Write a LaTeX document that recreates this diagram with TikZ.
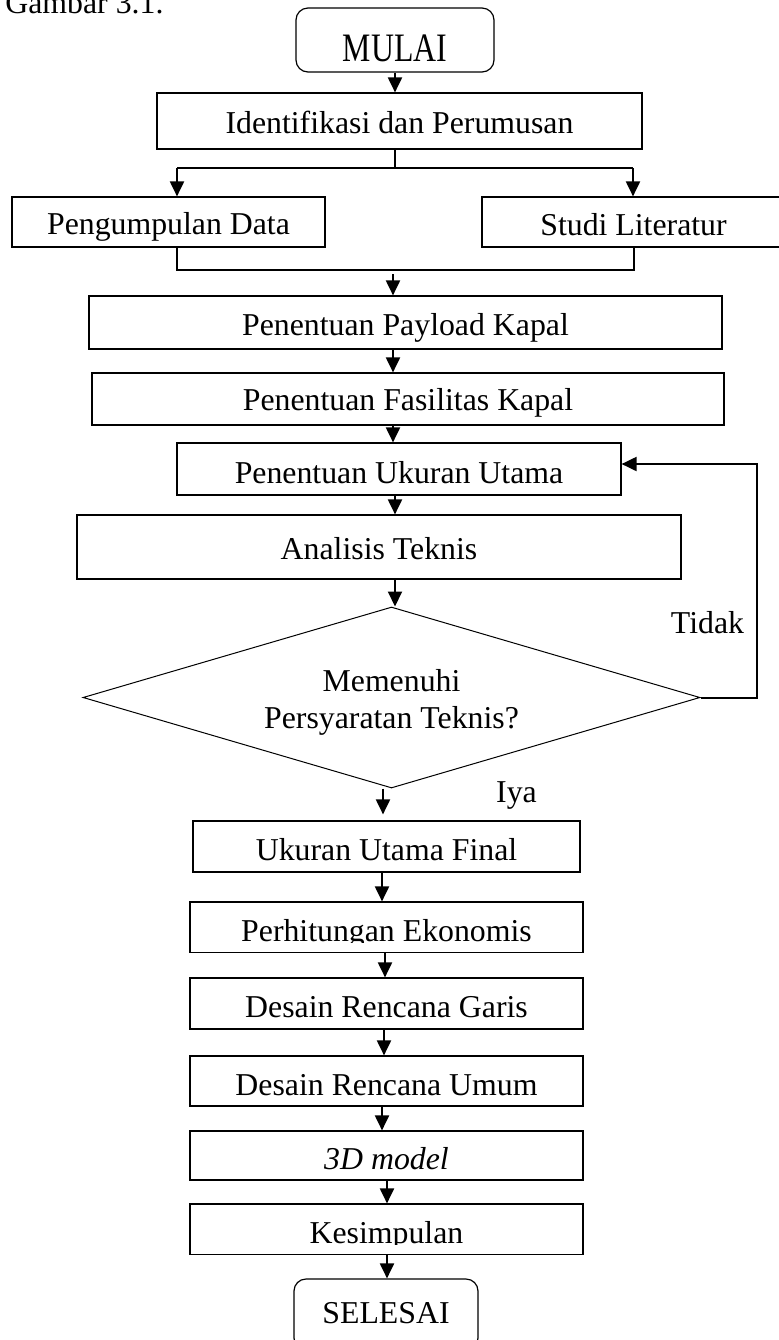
\documentclass[tikz,border=0pt]{standalone}
\usepackage{fontspec}
\usepackage{graphicx}
\setmainfont{Liberation Serif}
\usetikzlibrary{arrows.meta,shapes.geometric}
\begin{document}
\begin{tikzpicture}[x=0.5pt,y=-0.5pt,
  every node/.style={font=\fontsize{15.9pt}{18.5pt}\selectfont},
  box/.style={draw, line width=0.6pt, rectangle, inner sep=0pt, text depth=0pt},
  term/.style={box, rounded corners=6pt},
  arr/.style={line width=1pt, -{Triangle[length=7.5pt,width=7pt]}},
  ln/.style={line width=1pt},
  lbl/.style={anchor=base, inner sep=0pt},
]
\useasboundingbox (0,0) rectangle (779,1340);

\node[anchor=base west, inner sep=0pt] (cap) at (5,13) {Gambar 3.1.};

\node[term, minimum width=99pt, minimum height=32pt, text height=21pt] (mulai) at (395,40) {\scalebox{1}[1.27]{MULAI}};
\node[box, minimum width=242.5pt, minimum height=28pt, text height=12pt] (ident) at (399.5,121) {Identifikasi dan Perumusan};
\node[box, minimum width=156.5pt, minimum height=25pt, text height=12pt] (peng) at (168.5,222) {Pengumpulan Data};
\node[box, minimum width=151.5pt, minimum height=25pt, text height=13pt] (studi) at (633.5,222) {Studi Literatur};
\node[box, minimum width=316.5pt, minimum height=26.5pt, text height=12.5pt] (payload) at (405.5,322.5) {Penentuan Payload Kapal};
\node[box, minimum width=316pt, minimum height=26pt, text height=11pt] (fasil) at (408,399) {Penentuan Fasilitas Kapal};
\node[box, minimum width=222pt, minimum height=26pt, text height=14pt] (ukuran) at (399,469) {Penentuan Ukuran Utama};
\node[box, minimum width=302pt, minimum height=32pt, text height=12pt] (analisis) at (379,547) {Analisis Teknis};
\node[draw, diamond, line width=0.5pt, minimum width=308.5pt, minimum height=90.5pt, inner sep=0pt] (dec) at (391.5,697.5) {};
\node[align=center, inner sep=0pt] (dectext) at (391.5,702) {Memenuhi\\Persyaratan Teknis?};
\node[lbl] (tidak) at (707.5,633) {Tidak};
\node[lbl] (iya) at (516.5,802) {Iya};
\node[box, minimum width=193.5pt, minimum height=25.5pt, text height=13.5pt] (final) at (386.5,846.5) {Ukuran Utama Final};
\node[box, minimum width=196.5pt, minimum height=25pt, text height=14pt] (ekon) at (386.5,927) {Perhitungan Ekonomis};
\node[box, minimum width=196.5pt, minimum height=25.5pt, text height=13.5pt] (garis) at (386.5,1003.5) {Desain Rencana Garis};
\node[box, minimum width=196.5pt, minimum height=25pt, text height=14pt] (umum) at (386.5,1081) {Desain Rencana Umum};
\node[box, minimum width=196.5pt, minimum height=24.5pt, text height=13.5pt] (model) at (386.5,1155.5) {\itshape 3D model};
\node[box, minimum width=196.5pt, minimum height=25pt, text height=14pt] (kesim) at (386.5,1229) {Kesimpulan};
\node[term, minimum width=92pt, minimum height=35.5pt, text height=8.5pt] (selesai) at (386,1314.5) {SELESAI};

% descenders hidden as in the reference
\fill[white] ([shift={(1pt,0.5pt)}]ekon.south west) rectangle ([shift={(-1pt,5pt)}]ekon.south east);
\fill[white] ([shift={(1pt,0.5pt)}]kesim.south west) rectangle ([shift={(-1pt,5pt)}]kesim.south east);

% connectors
\draw[arr] (mulai.south) -- (mulai.south |- ident.north);
\coordinate (j) at (395,168);
\coordinate (jl) at (177,168);
\coordinate (jr) at (633,168);
\draw[ln] (j |- ident.south) -- (j);
\draw[ln] (jl) -- (jr);
\draw[arr] (jl) -- (jl |- peng.north);
\draw[arr] (jr) -- (jr |- studi.north);

\coordinate (ml) at (177,270);
\coordinate (mr) at (634,270);
\draw[ln] (ml |- peng.south) -- (ml) -- (mr) -- (mr |- studi.south);
\coordinate (ms) at (393,274);
\draw[arr] (ms) -- (ms |- payload.north);
\draw[arr] (ms |- payload.south) -- (ms |- fasil.north);
\draw[arr] (ms |- fasil.south) -- (ms |- ukuran.north);
\coordinate (ax) at (395,0);
\draw[arr] (ax |- ukuran.south) -- (ax |- analisis.north);
\draw[arr] (ax |- analisis.south) -- (ax |- dec.north);
\coordinate (bx) at (383,0);
\draw[arr, shorten >=3pt] (bx |- dec.south) -- (bx |- final.north);
\coordinate (c1) at (382,0);
\draw[arr] (c1 |- final.south) -- (c1 |- ekon.north);
\coordinate (c2) at (385,0);
\draw[arr] (c2 |- ekon.south) -- (c2 |- garis.north);
\coordinate (c3) at (384,0);
\draw[arr] (c3 |- garis.south) -- (c3 |- umum.north);
\coordinate (c4) at (382,0);
\draw[arr] (c4 |- umum.south) -- (c4 |- model.north);
\coordinate (c5) at (387,0);
\draw[arr] (c5 |- model.south) -- (c5 |- kesim.north);
\draw[arr] (c5 |- kesim.south) -- (c5 |- selesai.north);

\coordinate (fb) at (757,464);
\draw[arr] (dec.east) -| (fb) -- (fb -| ukuran.east);
\end{tikzpicture}
\end{document}
